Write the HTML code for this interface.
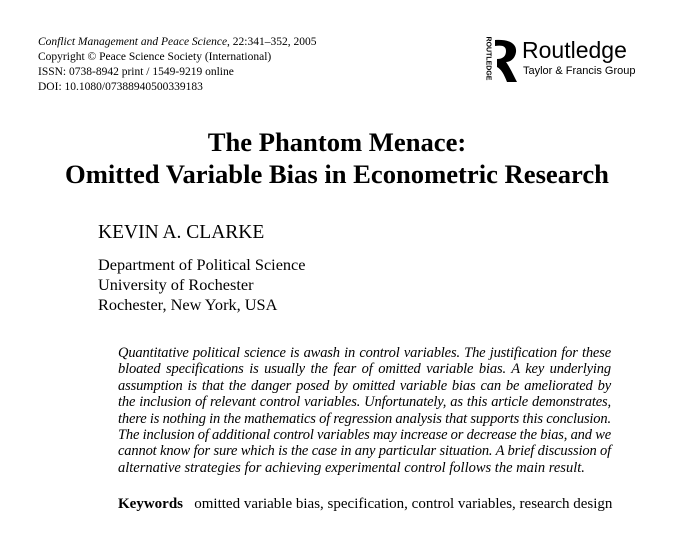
<!DOCTYPE html>
<html><head><meta charset="utf-8"><style>
body{margin:0;width:692px;height:535px;background:#fff;position:relative;overflow:hidden;font-family:"Liberation Serif",serif;color:#000}
.a{position:absolute;white-space:nowrap}
.hdr{font-size:11.5px;left:38px}
.t{font-weight:bold;font-size:26.6px;left:0;width:674px;text-align:center}
.ab{position:absolute;left:118px;width:493px;font-style:italic;font-size:14.5px;letter-spacing:-0.15px;word-spacing:-1px}
.ab div{height:16.4px;line-height:16.4px;text-align:justify;text-align-last:justify;white-space:nowrap}
.ab div.last{text-align-last:left;letter-spacing:0;word-spacing:0}
</style></head><body>
<div class="a hdr" style="top:36px"><i>Conflict Management and Peace Science</i>, 22:341–352, 2005</div>
<div class="a hdr" style="top:51px">Copyright © Peace Science Society (International)</div>
<div class="a hdr" style="top:66px">ISSN: 0738-8942 print / 1549-9219 online</div>
<div class="a hdr" style="top:81px">DOI: 10.1080/07388940500339183</div>

<div>
<div class="a" style="left:466px;top:55px;font-family:'Liberation Sans',sans-serif;font-size:7px;font-weight:bold;transform:rotate(90deg);transform-origin:center">ROUTLEDGE</div>
<svg class="a" style="left:494px;top:39px" width="24" height="44"><path d="M1 1 C14 0 23 4 22 13 C21 20 16 23 12 23 C15 27 18 33 23 43 L13 43 C10 35 7 30 3 28 L3 20 C9 20 12 17 12 12 C12 7 8 6 1 7 Z" fill="#000"/></svg>
<div class="a" style="left:522px;top:37px;font-family:'Liberation Sans',sans-serif;font-size:23px">Routledge</div>
<div class="a" style="left:523px;top:65px;font-family:'Liberation Sans',sans-serif;font-size:11px">Taylor &amp; Francis Group</div>
</div>

<div class="a t" style="top:127px">The Phantom Menace:</div>
<div class="a t" style="top:159px">Omitted Variable Bias in Econometric Research</div>

<div class="a" style="left:98px;top:222px;font-size:19.5px">KEVIN A. CLARKE</div>
<div class="a" style="left:98px;top:255px;font-size:16.3px">Department of Political Science</div>
<div class="a" style="left:98px;top:275px;font-size:16.3px">University of Rochester</div>
<div class="a" style="left:98px;top:295px;font-size:16.3px">Rochester, New York, USA</div>

<div class="ab" style="top:345px">
<div>Quantitative political science is awash in control variables. The justification for these</div>
<div>bloated specifications is usually the fear of omitted variable bias. A key underlying</div>
<div>assumption is that the danger posed by omitted variable bias can be ameliorated by</div>
<div>the inclusion of relevant control variables. Unfortunately, as this article demonstrates,</div>
<div>there is nothing in the mathematics of regression analysis that supports this conclusion.</div>
<div>The inclusion of additional control variables may increase or decrease the bias, and we</div>
<div>cannot know for sure which is the case in any particular situation. A brief discussion of</div>
<div class="last">alternative strategies for achieving experimental control follows the main result.</div>
</div>

<div class="a" style="left:118px;top:496px;font-size:15px"><b>Keywords</b>&nbsp;&nbsp;&nbsp;omitted variable bias, specification, control variables, research design</div>
</body></html>
